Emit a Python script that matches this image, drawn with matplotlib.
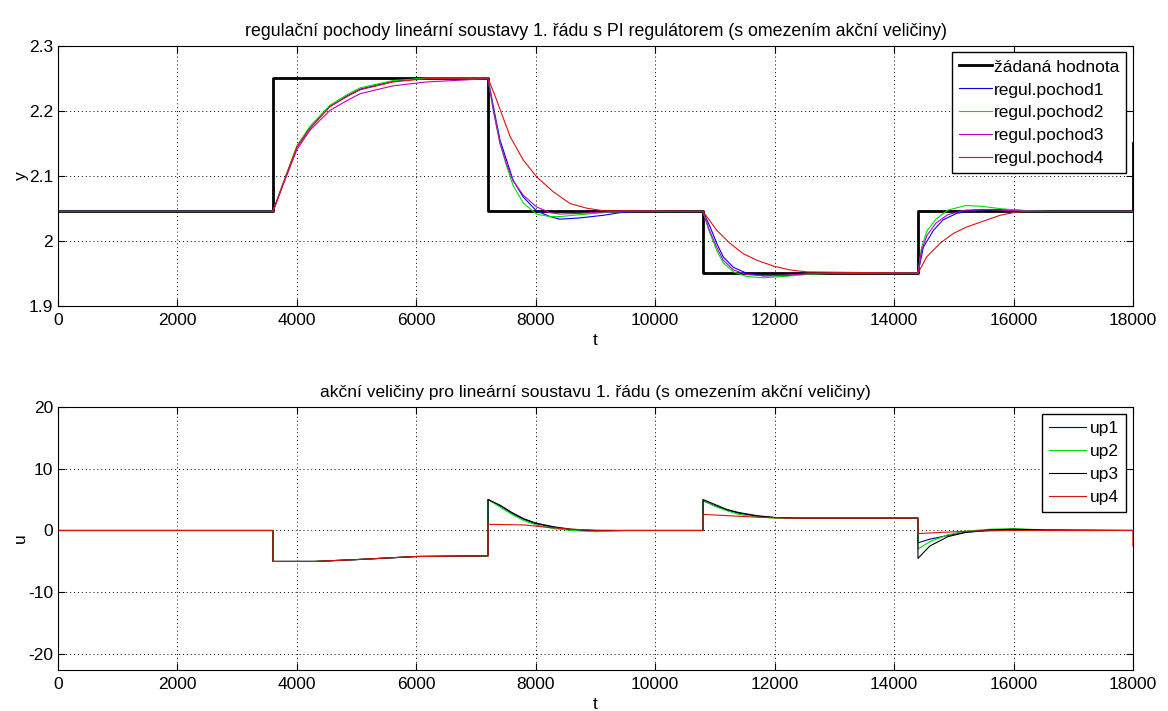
import matplotlib.pyplot as plt
import numpy as np

plt.rcParams['font.family'] = ['Liberation Sans', 'DejaVu Sans']
plt.rcParams['axes.unicode_minus'] = False

# setpoint (zadana hodnota)
t_w = [0, 3600, 3600, 7200, 7200, 10800, 10800, 14400, 14400, 18000, 18000]
w = [2.045, 2.045, 2.25, 2.25, 2.045, 2.045, 1.95, 1.95, 2.045, 2.045, 2.15]

# regul.pochod1 (blue)
t_y1 = [0, 3600, 3770, 4000, 4220, 4550, 4830, 5060, 5610, 6170, 7200,
        7290, 7400, 7510, 7620, 7790, 8010, 8240, 8400, 8740, 9130, 9410, 9690, 10800,
        10920, 11030, 11140, 11310, 11530, 11810, 12150, 12540, 13000, 14400,
        14490, 14660, 14820, 15050, 15330, 15660, 16050, 16500, 18000]
y1 = [2.045, 2.045, 2.088, 2.144, 2.173, 2.206, 2.222, 2.233, 2.245, 2.250, 2.250,
      2.206, 2.155, 2.124, 2.093, 2.067, 2.046, 2.037, 2.033, 2.035, 2.039, 2.043, 2.045, 2.045,
      2.021, 1.996, 1.975, 1.959, 1.950, 1.946, 1.946, 1.949, 1.950, 1.950,
      1.990, 2.016, 2.032, 2.042, 2.047, 2.048, 2.047, 2.045, 2.045]

# regul.pochod2 (green)
t_y2 = [0, 3600, 3770, 4000, 4220, 4550, 4830, 5060, 5610, 6170, 7200,
        7290, 7400, 7510, 7620, 7790, 8010, 8240, 8400, 8740, 9130, 9500, 10800,
        10900, 11030, 11140, 11310, 11530, 11810, 12150, 12540, 13000, 14400,
        14460, 14550, 14700, 14900, 15200, 15450, 15800, 16200, 16600, 18000]
y2 = [2.045, 2.045, 2.089, 2.146, 2.176, 2.208, 2.224, 2.235, 2.246, 2.250, 2.250,
      2.200, 2.150, 2.115, 2.085, 2.058, 2.041, 2.037, 2.037, 2.040, 2.043, 2.045, 2.045,
      2.015, 1.985, 1.966, 1.952, 1.945, 1.943, 1.945, 1.948, 1.950, 1.950,
      1.990, 2.015, 2.033, 2.047, 2.054, 2.053, 2.049, 2.046, 2.045, 2.045]

# regul.pochod3 (magenta)
t_y3 = [0, 3600, 3770, 4000, 4220, 4550, 4830, 5060, 5610, 6170, 6800, 7200,
        7290, 7400, 7510, 7620, 7790, 8010, 8240, 8400, 8740, 9130, 9700, 10800,
        10900, 11030, 11140, 11310, 11530, 11810, 12150, 12540, 13000, 14400,
        14460, 14550, 14700, 14900, 15200, 15600, 16000, 16500, 18000]
y3 = [2.045, 2.045, 2.086, 2.140, 2.170, 2.200, 2.215, 2.226, 2.238, 2.244, 2.247, 2.249,
      2.200, 2.150, 2.118, 2.092, 2.070, 2.052, 2.043, 2.041, 2.042, 2.044, 2.045, 2.045,
      2.018, 1.990, 1.970, 1.955, 1.948, 1.946, 1.947, 1.949, 1.950, 1.950,
      1.985, 2.008, 2.027, 2.040, 2.047, 2.048, 2.046, 2.045, 2.045]

# regul.pochod4 (red)
t_y4 = [0, 3600, 3770, 4000, 4220, 4550, 4830, 5060, 5610, 6170, 7200,
        7345, 7570, 7790, 8015, 8295, 8575, 8850, 9130, 10800,
        11030, 11250, 11475, 11700, 11980, 12260, 12540, 14400,
        14545, 14770, 14990, 15215, 15495, 15775, 16050, 16330, 18000]
y4 = [2.045, 2.045, 2.088, 2.144, 2.173, 2.206, 2.221, 2.232, 2.244, 2.249, 2.250,
      2.216, 2.160, 2.124, 2.098, 2.075, 2.057, 2.050, 2.046, 2.045,
      2.016, 1.996, 1.980, 1.970, 1.961, 1.955, 1.952, 1.950,
      1.975, 1.996, 2.011, 2.021, 2.030, 2.039, 2.044, 2.045, 2.045]

# akcni veliciny
t_u1 = [0, 3600, 3600, 4300, 5000, 6000, 7200, 7200, 7400, 7600, 7800, 8000, 8300, 8600, 9000, 9500, 10800,
        10800, 11000, 11200, 11400, 11700, 12000, 12400, 14400,
        14400, 14600, 14900, 15200, 15600, 16000, 16500, 18000]
u1 = [0, 0, -5, -5, -4.7, -4.2, -4.1, 5, 4.0, 2.8, 1.8, 1.1, 0.5, 0.1, -0.1, 0, 0,
      4.8, 4.0, 3.3, 2.8, 2.3, 2.1, 2.0, 2.0,
      -2.0, -1.4, -0.8, -0.3, 0.0, 0.1, 0, 0]
t_u2 = t_u1
u2 = [0, 0, -5, -5, -4.7, -4.2, -4.1, 5, 3.8, 2.6, 1.6, 0.9, 0.3, 0.0, -0.2, 0, 0,
      4.9, 3.9, 3.2, 2.6, 2.2, 2.0, 2.0, 2.0,
      -3.0, -1.8, -0.7, -0.1, 0.2, 0.3, 0.1, 0]
t_u3 = t_u1
u3 = [0, 0, -5, -5, -4.7, -4.2, -4.1, 5, 4.1, 2.9, 1.9, 1.2, 0.6, 0.2, 0.0, 0, 0,
      5.0, 4.2, 3.4, 2.9, 2.4, 2.1, 2.0, 2.0,
      -4.5, -2.5, -1.0, -0.3, 0.1, 0.2, 0.1, 0]
t_u4 = [0, 3600, 3600, 4300, 5000, 6000, 7200, 7200, 7800, 8200, 8600, 9000, 9500, 10800,
        10800, 11200, 11700, 12200, 14400,
        14400, 14800, 15300, 16000, 18000, 18000]
u4 = [0, 0, -5, -5, -4.7, -4.2, -4.1, 1.0, 0.9, 0.5, 0.2, 0.05, 0, 0,
      2.6, 2.4, 2.15, 2.0, 2.0,
      -0.5, -0.3, -0.1, 0, 0, -2.5]

fig = plt.figure(figsize=(11.68, 7.11), dpi=100)
ax1 = fig.add_axes([0.0497, 0.570, 0.9203, 0.366])
ax2 = fig.add_axes([0.0497, 0.058, 0.9203, 0.370])

fs = 12.5

ax1.plot(t_w, w, color='k', linewidth=2, label='žádaná hodnota')
ax1.plot(t_y1, y1, color='b', linewidth=0.8, label='regul.pochod1')
ax1.plot(t_y2, y2, color='#00dd00', linewidth=0.8, label='regul.pochod2')
ax1.plot(t_y3, y3, color='m', linewidth=0.8, label='regul.pochod3')
ax1.plot(t_y4, y4, color='#dd1111', linewidth=0.8, label='regul.pochod4')
ax1.set_xlim(0, 18000)
ax1.set_ylim(1.9, 2.3)
ax1.set_yticks([1.9, 2.0, 2.1, 2.2, 2.3])
ax1.set_yticklabels(['1.9', '2', '2.1', '2.2', '2.3'])
ax1.set_xlabel('t', fontsize=fs, labelpad=4)
ax1.set_ylabel('y', fontsize=fs, labelpad=0)
ax1.set_title('regulační pochody lineární soustavy 1. řádu s PI regulátorem (s omezením akční veličiny)',
              fontsize=12.8, pad=7)
ax1.legend(loc='upper right', fontsize=fs, fancybox=False, edgecolor='k', framealpha=1,
           handlelength=1.9, handletextpad=0.1, labelspacing=0.45, borderaxespad=0.4)

ax2.plot(t_u1, u1, color='#000099', linewidth=0.8, label='up1')
ax2.plot(t_u2, u2, color='#00dd00', linewidth=0.8, label='up2')
ax2.plot(t_u3, u3, color='k', linewidth=0.8, label='up3')
ax2.plot(t_u4, u4, color='#dd1111', linewidth=0.8, label='up4')
ax2.set_xlim(0, 18000)
ax2.set_ylim(-22.5, 20)
ax2.set_yticks([-20, -10, 0, 10, 20])
ax2.set_xlabel('t', fontsize=fs, labelpad=4)
ax2.set_ylabel('u', fontsize=fs, labelpad=0)
ax2.set_title('akční veličiny pro lineární soustavu 1. řádu (s omezením akční veličiny)',
              fontsize=12.5, pad=7)
ax2.legend(loc='upper right', fontsize=fs, fancybox=False, edgecolor='k', framealpha=1,
           handlelength=2.1, handletextpad=0.25, labelspacing=0.45, borderaxespad=0.4)

for ax in (ax1, ax2):
    ax.set_xticks(np.arange(0, 18001, 2000))
    ax.grid(True, color='k', linestyle=(0, (1, 3)), linewidth=0.7)
    ax.tick_params(direction='in', top=True, right=True, labelsize=fs, length=5)
    ax.tick_params(axis='x', pad=5)
    for s in ax.spines.values():
        s.set_linewidth(0.8)

fig.savefig('out.png', dpi=100)
